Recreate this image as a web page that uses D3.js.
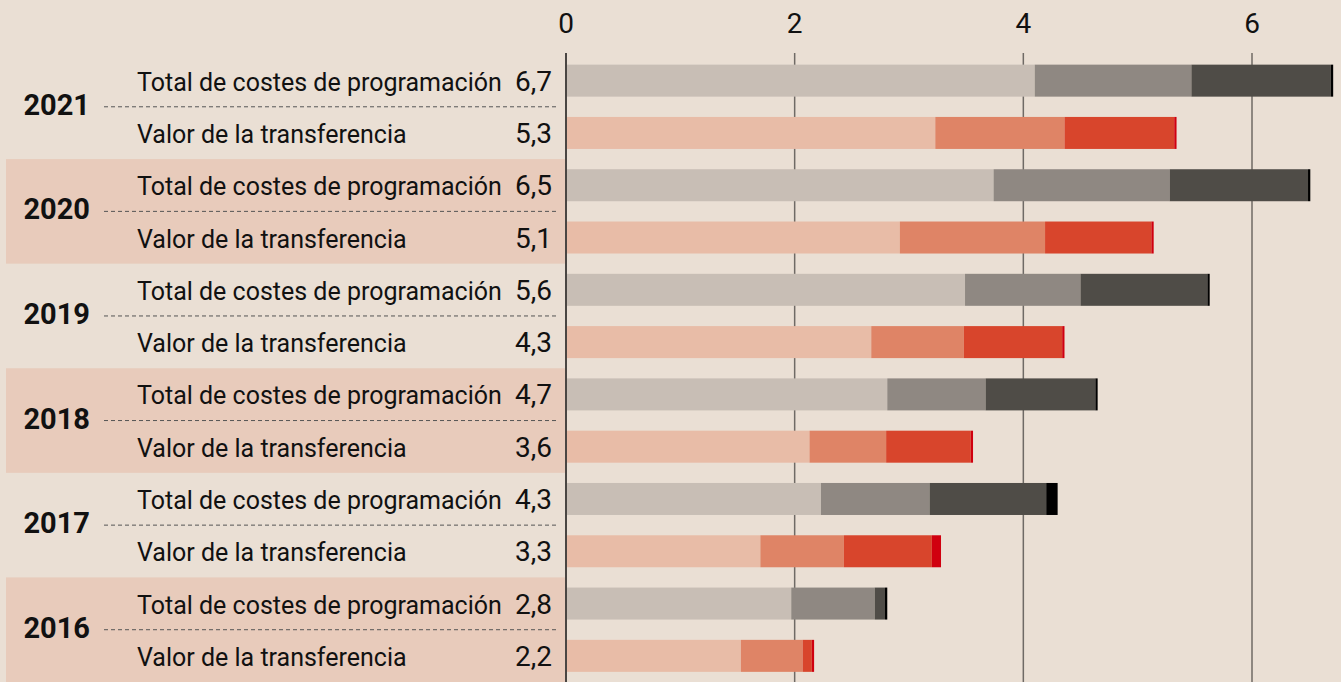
<!DOCTYPE html>
<html>
<head>
<meta charset="utf-8">
<script src="https://cdn.jsdelivr.net/npm/d3@7"></script>
<style>
  html, body { margin: 0; padding: 0; background: #eadfd4; }
  svg { display: block; font-family: Roboto, sans-serif; }
</style>
</head>
<body>
<div id="chart"></div>
<script>
'use strict';

// datos (millones)
const years = ['2021', '2020', '2019', '2018', '2017', '2016'];
const seriesNames = ['Total de costes de programación', 'Valor de la transferencia'];
const totalLabels = ['6,7', '6,5', '5,6', '4,7', '4,3', '2,8'];
const transfLabels = ['5,3', '5,1', '4,3', '3,6', '3,3', '2,2'];

const totalTramo1 = [4.10, 3.74, 3.49, 2.81, 2.23, 1.97];
const totalTramo2 = [1.37, 1.54, 1.01, 0.86, 0.95, 0.73];
const totalTramo3 = [1.22, 1.21, 1.11, 0.96, 1.02, 0.09];
const totalTramo4 = [0.02, 0.02, 0.02, 0.02, 0.10, 0.02];

const transfTramo1 = [3.23, 2.92, 2.67, 2.13, 1.70, 1.53];
const transfTramo2 = [1.13, 1.27, 0.81, 0.67, 0.73, 0.54];
const transfTramo3 = [0.96, 0.93, 0.86, 0.74, 0.77, 0.08];
const transfTramo4 = [0.02, 0.02, 0.02, 0.02, 0.08, 0.02];

const xTicks = [0, 2, 4, 6];

const totalColors = ['#c8beb5', '#8f8882', '#4f4c47', '#000000'];
const transfColors = ['#e8bca7', '#df8466', '#d8452c', '#d0000f'];

function drawChart(elementID, width, height) {
  const svg = d3.select('#' + elementID)
    .append('svg')
    .attr('width', width)
    .attr('height', height);

  svg.append('rect')
    .attr('width', width)
    .attr('height', height)
    .attr('fill', '#eadfd4');

  // una fila por barra
  const rows = [];
  years.forEach((year, i) => {
    rows.push({ key: year + '-t', year, serie: 0, label: totalLabels[i],
      t1: totalTramo1[i], t2: totalTramo2[i], t3: totalTramo3[i], t4: totalTramo4[i] });
    rows.push({ key: year + '-v', year, serie: 1, label: transfLabels[i],
      t1: transfTramo1[i], t2: transfTramo2[i], t3: transfTramo3[i], t4: transfTramo4[i] });
  });

  const x = d3.scaleLinear()
    .domain([0, 6])
    .range([566, 1252]);

  const y = d3.scaleBand()
    .domain(rows.map(d => d.key))
    .range([54.5, height])
    .paddingInner(0.388)
    .paddingOuter(0.194);

  const pad = y.step() * 0.194;

  // bandas alternas
  svg.selectAll('.banda')
    .data(years.filter((d, i) => i % 2 === 1))
    .enter()
    .append('rect')
    .attr('class', 'banda')
    .attr('x', 6)
    .attr('y', d => y(d + '-t') - pad)
    .attr('width', x(0) - 6)
    .attr('height', y.step() * 2)
    .attr('fill', '#e8cbbb');

  // rejilla
  svg.selectAll('.grid')
    .data(xTicks.filter(d => d !== 0))
    .enter()
    .append('line')
    .attr('class', 'grid')
    .attr('x1', d => x(d))
    .attr('x2', d => x(d))
    .attr('y1', 53)
    .attr('y2', height)
    .attr('stroke', '#6f6a65')
    .attr('stroke-width', 1.5);

  svg.selectAll('.tick-label')
    .data(xTicks)
    .enter()
    .append('text')
    .attr('class', 'tick-label')
    .attr('x', d => x(d))
    .attr('y', 33)
    .attr('text-anchor', 'middle')
    .attr('font-size', 28)
    .attr('fill', '#111')
    .text(d => d);

  // barras apiladas
  const stack = d3.stack().keys(['t1', 't2', 't3', 't4']);
  const layers = stack(rows);

  layers.forEach((layer, k) => {
    svg.selectAll('.seg' + k)
      .data(layer)
      .enter()
      .append('rect')
      .attr('class', 'seg' + k)
      .attr('x', d => x(d[0]))
      .attr('y', d => y(d.data.key))
      .attr('width', d => x(d[1]) - x(d[0]))
      .attr('height', y.bandwidth())
      .attr('fill', d => (d.data.serie === 0 ? totalColors : transfColors)[k]);
  });

  // eje 0
  svg.append('line')
    .attr('x1', x(0))
    .attr('x2', x(0))
    .attr('y1', 53)
    .attr('y2', height)
    .attr('stroke', '#4a4643')
    .attr('stroke-width', 2);

  // etiquetas de fila
  const rowText = svg.selectAll('.row-label')
    .data(rows)
    .enter()
    .append('g')
    .attr('class', 'row-label')
    .attr('transform', d => `translate(0,${y(d.key) + y.bandwidth() / 2})`);

  rowText.append('text')
    .attr('x', 137)
    .attr('y', 10)
    .attr('font-size', 25)
    .attr('fill', '#111')
    .text(d => seriesNames[d.serie]);

  rowText.append('text')
    .attr('x', 552)
    .attr('y', 10)
    .attr('text-anchor', 'end')
    .attr('font-size', 28)
    .attr('fill', '#111')
    .text(d => d.label);

  // años y linea discontinua
  const yearG = svg.selectAll('.year')
    .data(years)
    .enter()
    .append('g')
    .attr('class', 'year')
    .attr('transform', d => `translate(0,${(y(d + '-t') + y.bandwidth() + y(d + '-v')) / 2})`);

  yearG.append('line')
    .attr('x1', 104)
    .attr('x2', 556)
    .attr('y1', 0)
    .attr('y2', 0)
    .attr('stroke', '#555')
    .attr('stroke-width', 1)
    .attr('stroke-dasharray', '4,3');

  yearG.append('text')
    .attr('x', 90)
    .attr('y', 8)
    .attr('text-anchor', 'end')
    .attr('font-size', 29)
    .attr('font-weight', 'bold')
    .attr('fill', '#111')
    .text(d => d);
}

drawChart('chart', 1341, 682);
</script>
</body>
</html>
